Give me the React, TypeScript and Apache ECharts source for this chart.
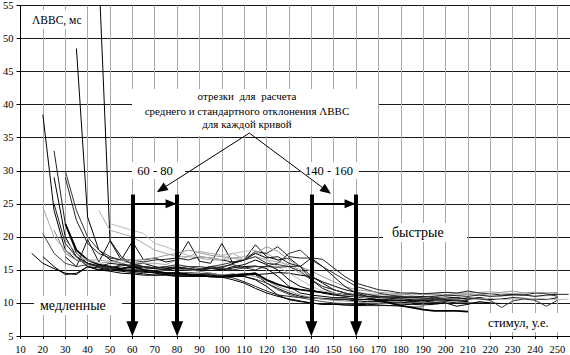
import React, { useEffect, useRef } from "react";
import * as echarts from "echarts";

// x step between successive points of every curve
const xStep = 5;

// Tick labels
const xTicks = [10, 20, 30, 40, 50, 60, 70, 80, 90, 100, 110, 120, 130, 140, 150, 160, 170, 180, 190, 200, 210, 220, 230, 240, 250];
const yTicks = [5, 10, 15, 20, 25, 30, 35, 40, 45, 50, 55];

// Curves: first x and the values at successive x (step 5)
const c1Start = 15;
const c1 = [17.5, 16, 15.2, 14.5, 14.3, 15.5, 15, 14.8, 14.5, 14.4, 14.2, 14.2, 14.3, 14.1, 14, 14, 14, 13.9, 13.5, 13, 12.2, 11.5, 11, 10.6, 10.3, 10, 9.8, 9.8, 9.7, 9.6, 9.6, 9.6];
const c2Start = 20;
const c2 = [38.5, 24, 18, 16.5, 16, 15.5, 15.2, 15, 15, 14.8, 14.6, 14.5, 14.6, 14.4, 14.3, 14.5, 14.2, 14.2, 14.5, 14.3, 13, 12.2, 11.5, 11, 10.8, 10.6, 10.5, 10.5, 10.3, 10.2, 10.2, 10.1, 10.1, 10, 10, 10, 10];
const c3Start = 25;
const c3 = [33, 22, 17.5, 16, 15.5, 15.2, 15, 14.8, 14.6, 14.6, 14.5, 14.3, 14.2, 14.2, 14, 14, 13.8, 13.2, 12.5, 11.8, 11.2, 11, 10.8, 10.8, 10.7, 10.6, 10.6, 10.5, 10.5, 10.4, 10.4, 10.3, 10.4, 10.5, 10.3];
const c4Start = 35;
const c4 = [48.5, 23, 18, 16.5, 16, 15.5, 15.5, 15.3, 15.5, 15.2, 15, 15, 15.3, 15, 15.5, 15.8, 16.5, 15.8, 15, 13.5, 12.5, 12, 11.5, 11.2, 11, 11, 11, 11, 10.8, 10.8, 10.9, 11, 10.8, 10.9, 10.8, 10.6, 10.8, 10.5, 10.6, 10.8, 10.7, 10.6, 10.5, 10.8];
const c5Start = 45;
const c5 = [60, 19.5, 17, 15.8, 16, 15.5, 15.2, 15.3, 15, 15, 15.2, 15, 15.3, 15.5, 15.6, 15.2, 14, 12.5, 11.5, 11.2, 11, 10.8, 10.8, 10.6, 10.5, 10.5, 10.5, 10.4, 10.3, 10.4, 10.5, 10.4, 10.3, 10.2];
const c6Start = 45;
const c6 = [24, 21, 20.5, 20, 19, 18, 17.5, 17, 17, 16.8, 16.5, 16.5, 16.8, 17, 17.5, 17.5, 16.5, 15.5, 14.5, 13.5, 12.5, 12, 11.5, 11.3, 11.3, 11.2, 11.2, 11.2, 11.5, 11.3, 11.3, 11.2, 11.4, 11.5, 11.2, 11, 11, 11.3, 11.2, 11, 11.1, 11.3];
const c7Start = 30;
const c7 = [17, 15.5, 19.6, 16.2, 19.4, 16.5, 19.3, 16.5, 16.8, 16.2, 16.5, 19.3, 16.3, 16, 19, 16, 16.5, 18.8, 17, 16.5, 16.8, 15.5, 13.5, 12.2, 11.5, 11.2, 11, 10.8, 10.8, 10.9, 11, 10.8, 10.9, 10.6, 10.8, 10.8, 10.5, 10.8, 10.6];
const c8Start = 20;
const c8 = [20.5, 17.5, 16, 15.5, 15.8, 15.5, 15.3, 15, 15.2, 14.8, 14.8, 14.6, 14.5, 14.6, 14.5, 14.3, 14.2, 14.4, 14, 13.6, 13, 12, 11.3, 10.8, 10.5, 10.2, 10, 9.9, 9.8, 9.7, 9.6, 9.6, 9.5, 9.4, 9.4];
const c9Start = 20;
const c9 = [24.5, 20, 18, 17, 16.5, 16.5, 16.3, 16, 16.2, 16, 16, 15.8, 16.5, 17, 17.8, 17.5, 17.2, 17.5, 16.5, 17, 16.5, 16.2, 15.8, 15, 14, 13.2, 12.5, 12, 11.6, 11.4, 11.3, 11.2, 11.3, 11.5, 11.4, 11.4, 11.6, 11.5, 11.5, 11.6, 11.7, 11.5, 11.4, 11.5, 11.6, 11.5, 11.4];
const c10Start = 25;
const c10 = [29, 20, 17, 15.5, 15, 15.2, 15, 14.8, 14.8, 14.5, 14.3, 14.2, 14.2, 14.3, 14.2, 14, 14, 14.2, 14.3, 14.4, 14.6, 14.5, 14.2, 14, 13, 12, 11.5, 11, 10.8, 10.5, 10.3, 10.4, 10.2, 10.3, 10.1, 10.2, 10, 10, 10, 10];
const c11Start = 30;
const c11 = [29, 22.5, 19, 17.5, 16.8, 16.5, 16.5, 16.2, 16.5, 16.6, 16.8, 16.5, 17, 16.8, 16.5, 16.2, 16.5, 17.8, 17.5, 18.5, 17, 16.8, 16.8, 16.6, 15.3, 14, 13, 12.5, 12, 11.8, 11.5, 11.5, 11.4, 11.5, 11.6, 11.5, 11.8, 11.5, 11.4, 11.2, 11.3, 11.2, 11.5, 11.4, 11];
const c12Start = 30;
const c12 = [30, 24, 20, 18, 17, 16.5, 16, 15.5, 15.3, 15.5, 15.8, 15.5, 15.5, 15.3, 15.2, 15, 15.3, 15, 15.6, 16, 17.5, 18, 16.5, 15.5, 14.5, 13.5, 12.5, 12, 11.5, 11.2, 11, 11, 10.8, 10.8, 10.7];
const c13Start = 25;
const c13 = [21, 17.5, 16.5, 16, 15.6, 15.4, 15.2, 15.5, 15, 14.8, 15, 15.2, 15, 14.8, 14.5, 14.2, 14.3, 14.4, 14, 13.4, 12.5, 11.8, 11.2, 10.8, 10.6, 10.4, 10.3, 10.2, 10, 10, 9.9, 9.9, 9.9];
const c14Start = 30;
const c14 = [22, 18, 16.5, 15.8, 15.5, 15.2, 15.5, 15, 14.8, 14.5, 14.5, 14.3, 14.2, 14, 14, 14.2, 14.3, 14.5, 13.5, 12.8, 12.3, 12, 11.8, 11.6, 11.4, 11.2, 11, 10.8, 10.3, 10, 9.6, 9.3, 9, 8.8, 8.8, 8.8, 8.7];
const c15Start = 50;
const c15 = [22, 21.5, 21, 20.5, 19, 18.5, 17.8, 17.2, 17, 16.8, 16.5, 17.5, 17.8, 18, 16.5, 15.5, 14.5, 13.5, 12.5, 11.8, 11.5, 11.2, 11, 10.8, 10.8, 10.8, 10.7, 10.6, 10.8, 11, 10.8, 10.5, 10.4, 10.6, 10.7, 10.5, 10.6, 10.6, 10.7, 10.6, 10.5, 10.6];
const c16Start = 20;
const c16 = [17, 15.5, 14.3, 14.5, 15.5, 15.3, 15, 14.8, 14.6, 14.4, 14.2, 14.2, 14, 14.1, 14, 14, 13.9, 14, 14, 13.5, 12.5, 11.2, 10.5, 10.2, 10, 9.8, 9.8, 9.7, 9.7, 9.8, 9.7, 9.6, 9.7, 9.8, 9.7, 9.8, 10, 9.5, 9.8, 10.2, 10, 9.9];
const c17Start = 35;
const c17 = [17, 16, 15.5, 15.2, 15.8, 15.6, 15.5, 15.2, 15, 15.3, 15.5, 15.2, 15.5, 15.8, 16.2, 16.5, 17, 16, 15.8, 15.5, 14.8, 13.5, 12.5, 12, 11.5, 11.2, 11, 11, 10.9, 10.8, 10.8, 10.7, 10.6, 10.6, 10.6, 10.8, 10.6, 10.4, 9.3, 10.3, 10.6, 10.4, 9.5, 10.4];
const c18Start = 30;
const c18 = [19.5, 17.5, 16.5, 16, 16.2, 16.5, 16.4, 16.6, 16.8, 17.2, 17.5, 18, 17.6, 17.2, 17, 16.8, 16.5, 17.5, 18.5, 17.8, 16.5, 15.5, 14.8, 14, 13.2, 12.5, 12, 11.8, 11.6, 11.5, 11.4, 11.2, 11.3, 11.2, 11.1, 11.2, 11.3, 11.2, 11.4, 11.6, 11.8, 11.5, 11.6, 11.5, 11.6];
const c19Start = 40;
const c19 = [16, 15.5, 16, 15.8, 15.5, 15.3, 15.2, 15, 15.3, 15.2, 15, 15.5, 15.3, 16, 16.5, 17.5, 16.8, 17, 16, 15.5, 16.8, 15.5, 14, 12.5, 11.5, 11, 10.8, 10.7, 10.6, 10.5, 10.4, 10.4, 10.5, 10.4, 10.4];
const c20Start = 25;
const c20 = [25, 19, 17, 16, 15.6, 15.4, 15.6, 15.8, 15.5, 15.3, 15.3, 15.5, 15.2, 15, 15.2, 15.5, 15.8, 15.3, 15.5, 15.5, 15.4, 15.5, 15.6, 14, 13.2, 12.6, 12, 11.6, 11.3, 11, 10.9, 10.8, 10.8, 10.9, 11, 11.2, 11.1, 11, 11.2, 11, 11.1, 11.2, 11.2, 11, 11.2, 11.3, 11.3];

const curves = [
  { start: c1Start, values: c1, color: "#000", width: 1 },
  { start: c2Start, values: c2, color: "#000", width: 1 },
  { start: c3Start, values: c3, color: "#222", width: 1 },
  { start: c4Start, values: c4, color: "#000", width: 1 },
  { start: c5Start, values: c5, color: "#000", width: 1 },
  { start: c6Start, values: c6, color: "#aaa", width: 1 },
  { start: c7Start, values: c7, color: "#111", width: 1 },
  { start: c8Start, values: c8, color: "#444", width: 1 },
  { start: c9Start, values: c9, color: "#aaa", width: 1 },
  { start: c10Start, values: c10, color: "#000", width: 1 },
  { start: c11Start, values: c11, color: "#222", width: 1 },
  { start: c12Start, values: c12, color: "#333", width: 1 },
  { start: c13Start, values: c13, color: "#888", width: 1 },
  { start: c14Start, values: c14, color: "#000", width: 1.8 },
  { start: c15Start, values: c15, color: "#bbb", width: 1 },
  { start: c16Start, values: c16, color: "#000", width: 1 },
  { start: c17Start, values: c17, color: "#333", width: 1 },
  { start: c18Start, values: c18, color: "#999", width: 1 },
  { start: c19Start, values: c19, color: "#111", width: 1 },
  { start: c20Start, values: c20, color: "#222", width: 1 },
];

// Annotation segments (x ranges) and texts
const segments = [
  [60, 80],
  [140, 160],
];
const segmentLabels = ["60 - 80", "140 - 160"];
const noteLines = ["отрезки  для  расчета", "среднего и стандартного отклонения ΛВВС", "для каждой кривой"];
const yTitle = "ΛВВС, мс";
const xTitle = "стимул, у.е.";
const slowLabel = "медленные";
const fastLabel = "быстрые";

const FONT = "Liberation Serif";

export default function App() {
  const ref = useRef<HTMLDivElement>(null);
  useEffect(() => {
    if (!ref.current) return;
    const chart = echarts.init(ref.current, null, { renderer: "svg" });

    const lineSeries = curves.map((c, i) => ({
      type: "line",
      name: "c" + (i + 1),
      data: c.values.map((v, k) => [c.start + k * xStep, v]),
      symbol: "none",
      silent: true,
      z: 2,
      lineStyle: { color: c.color, width: c.width },
      clip: true,
    }));

    const thickArrows = {
      type: "line",
      data: [],
      silent: true,
      z: 10,
      markLine: {
        silent: true,
        animation: false,
        symbol: ["none", "triangle"],
        symbolSize: [12, 15],
        label: { show: false },
        lineStyle: { color: "#000", width: 4, type: "solid" },
        emphasis: { disabled: true },
        data: segments.flatMap(([a, b]) => [
          [{ coord: [a, 26.4] }, { coord: [a, 6.1] }],
          [{ coord: [b, 26.4] }, { coord: [b, 6.1] }],
        ]),
      },
    };

    const rangeArrows = {
      type: "line",
      data: [],
      silent: true,
      z: 10,
      markLine: {
        silent: true,
        animation: false,
        symbol: ["none", "triangle"],
        symbolSize: [9, 11],
        label: { show: false },
        lineStyle: { color: "#000", width: 2, type: "solid" },
        emphasis: { disabled: true },
        data: segments.map(([a, b]) => [{ coord: [a, 25] }, { coord: [b - 2.7, 25] }]),
      },
    };

    const pointerArrows = {
      type: "line",
      data: [],
      silent: true,
      z: 10,
      markLine: {
        silent: true,
        animation: false,
        symbol: ["none", "triangle"],
        symbolSize: [9, 11],
        label: { show: false },
        lineStyle: { color: "#000", width: 1, type: "solid" },
        emphasis: { disabled: true },
        data: [
          [{ coord: [112.3, 35.7] }, { coord: [73, 27.2] }],
          [{ coord: [112.3, 35.7] }, { coord: [146.8, 27.0] }],
        ],
      },
    };

    const textStyle = (t: string, x: number, y: number, size: number, align = "left") => ({
      type: "text",
      z: 5,
      silent: true,
      x,
      y,
      style: {
        text: t,
        fontFamily: FONT,
        fontSize: size,
        fill: "#000",
        align,
        verticalAlign: "middle",
      },
    });
    const box = (x: number, y: number, w: number, h: number) => ({
      type: "rect",
      z: 4,
      silent: true,
      shape: { x, y, width: w, height: h },
      style: { fill: "#fff" },
    });

    chart.setOption({
      animation: false,
      backgroundColor: "#fff",
      textStyle: { fontFamily: FONT },
      grid: { left: 18.5, top: 3, right: 0, bottom: 18, containLabel: false },
      xAxis: {
        type: "value",
        min: 10,
        max: 255.6,
        interval: 10,
        axisLine: { show: true, onZero: false, lineStyle: { color: "#000", width: 1 } },
        axisTick: { show: true, length: 3, lineStyle: { color: "#000" } },
        axisLabel: {
          color: "#000",
          fontFamily: FONT,
          fontSize: 10.5,
          margin: 8,
          showMaxLabel: false,
          formatter: (v: number) => (xTicks.includes(v) ? String(v) : ""),
        },
        splitLine: { show: true, lineStyle: { color: "#a8a8a8", width: 1 } },
      },
      yAxis: {
        type: "value",
        min: 5,
        max: 55,
        interval: 5,
        axisLine: { show: true, onZero: false, lineStyle: { color: "#000", width: 1 } },
        axisTick: { show: true, length: 4, lineStyle: { color: "#000" } },
        axisLabel: {
          color: "#000",
          fontFamily: FONT,
          fontSize: 10.5,
          margin: 7,
          formatter: (v: number) => (yTicks.includes(v) ? String(v) : ""),
        },
        splitLine: { show: true, lineStyle: { color: "#1a1a1a", width: 1 } },
      },
      series: [...lineSeries, thickArrows, rangeArrows, pointerArrows],
      graphic: [
        box(28, 10, 58, 19),
        textStyle(yTitle, 32, 20, 11.5),
        box(132, 89, 246, 47),
        textStyle(noteLines[0], 247, 96, 11, "center"),
        textStyle(noteLines[1], 247, 111, 11, "center"),
        textStyle(noteLines[2], 247, 124, 11, "center"),
        box(132, 162, 53, 17),
        textStyle(segmentLabels[0], 155, 171, 12.5, "center"),
        box(300, 162, 59, 17),
        textStyle(segmentLabels[1], 329, 171, 12.5, "center"),
        box(34, 296, 88, 19),
        textStyle(slowLabel, 40, 305, 14),
        box(383, 223, 84, 19),
        textStyle(fastLabel, 392, 232, 14),
        box(482, 313, 76, 19),
        textStyle(xTitle, 488, 323, 12.5),
      ],
    });
    return () => chart.dispose();
  }, []);
  return (
    <div
      ref={ref}
      style={{ position: "fixed", left: 0, top: 0, width: 570, height: 355, background: "#fff" }}
    />
  );
}
